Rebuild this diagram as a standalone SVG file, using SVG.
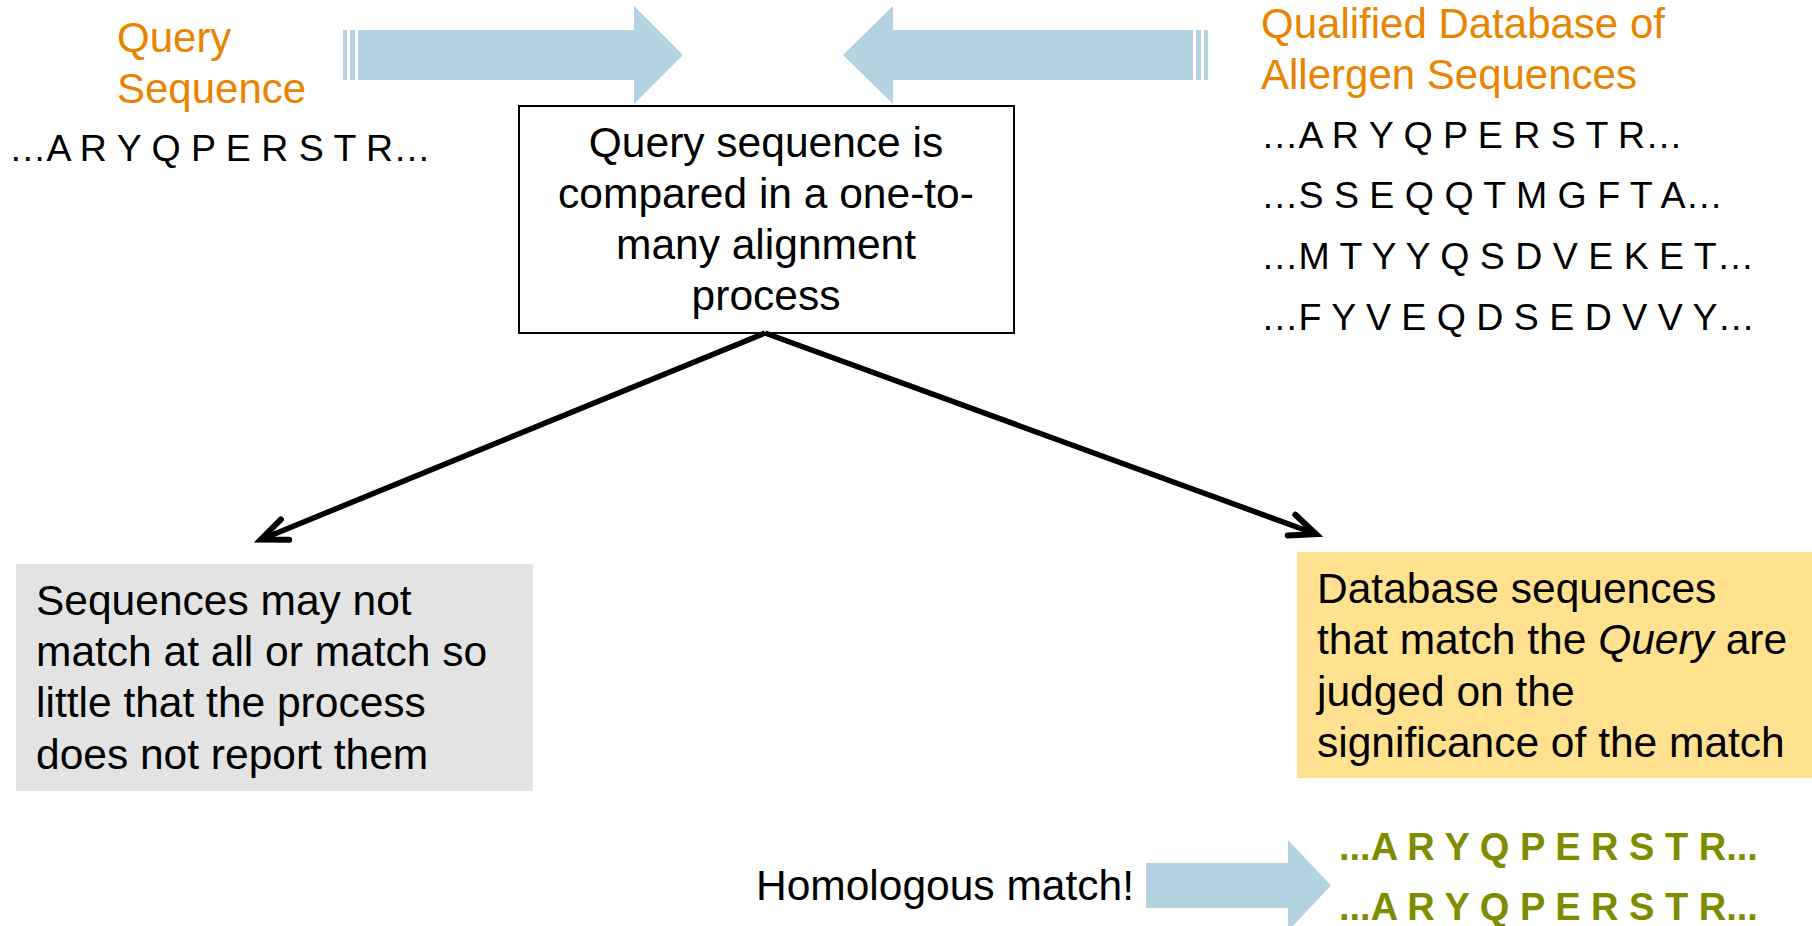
<svg xmlns="http://www.w3.org/2000/svg" width="1812" height="926" viewBox="0 0 1812 926">
<defs>
<style>
text{font-family:"Liberation Sans",Arial,sans-serif;fill:#000}
.h{font-size:42px;fill:#E98400}
.t{font-size:42.5px}
.s{font-size:37.5px}
.g{font-size:38px;font-weight:bold;fill:#808C00}
.blue{fill:#B2D3DF}
.conn{stroke:#000;stroke-width:5.5;fill:none}
</style>
<marker id="open" markerUnits="userSpaceOnUse" orient="auto" refX="0" refY="0" markerWidth="60" markerHeight="60" viewBox="-40 -30 60 60" overflow="visible">
<path d="M-26,-11 L0,0 L-26,11" fill="none" stroke="#000" stroke-width="6" stroke-linejoin="miter" stroke-linecap="round"/>
</marker>
</defs>
<rect width="1812" height="926" fill="#fff"/>

<g id="query-header">
<text class="h" x="117" y="52">Query</text>
<text class="h" x="117" y="103">Sequence</text>
<text class="s" x="9" y="161">…A R Y Q P E R S T R…</text>
</g>

<g id="arrow-query">
<rect class="blue" x="343" y="30" width="4" height="50"/>
<rect class="blue" x="350" y="30" width="5" height="50"/>
<path class="blue" d="M358,30 H634 V6 L683,55 L634,104 V80 H358 Z"/>
</g>

<g id="arrow-database">
<rect class="blue" x="1204" y="30" width="4" height="50"/>
<rect class="blue" x="1196" y="30" width="5" height="50"/>
<path class="blue" d="M1193,30 H893 V6 L843,55 L893,104 V80 H1193 Z"/>
</g>

<g id="database-header">
<text class="h" x="1261" y="38">Qualified Database of</text>
<text class="h" x="1261" y="89">Allergen Sequences</text>
<text class="s" x="1261" y="148">…A R Y Q P E R S T R…</text>
<text class="s" x="1261" y="208">…S S E Q Q T M G F T A…</text>
<text class="s" x="1261" y="269">…M T Y Y Q S D V E K E T…</text>
<text class="s" x="1261" y="330">…F Y V E Q D S E D V V Y…</text>
</g>

<g id="process">
<rect x="519" y="106" width="495" height="227" fill="#fff" stroke="#000" stroke-width="2"/>
<text class="t" text-anchor="middle" x="766" y="157">Query sequence is</text>
<text class="t" text-anchor="middle" x="766" y="208">compared in a one-to-</text>
<text class="t" text-anchor="middle" x="766" y="259">many alignment</text>
<text class="t" text-anchor="middle" x="766" y="310">process</text>
</g>

<g id="connectors">
<path class="conn" d="M765,333 L261,539.5" marker-end="url(#open)"/>
<path class="conn" d="M765,333 L1316,534" marker-end="url(#open)"/>
</g>

<g id="no-match">
<rect x="16" y="564" width="517" height="227" fill="#E3E3E3"/>
<text class="t" x="36" y="615">Sequences may not</text>
<text class="t" x="36" y="666">match at all or match so</text>
<text class="t" x="36" y="717">little that the process</text>
<text class="t" x="36" y="769">does not report them</text>
</g>

<g id="match">
<rect x="1297" y="552" width="515" height="226" fill="#FFE18F"/>
<text class="t" x="1317" y="603">Database sequences</text>
<text class="t" x="1317" y="654">that match the <tspan font-style="italic">Query</tspan> are</text>
<text class="t" x="1317" y="706">judged on the</text>
<text class="t" x="1317" y="757">significance of the match</text>
</g>

<g id="homologous">
<text class="t" x="756" y="900">Homologous match!</text>
<path class="blue" d="M1146,863 H1288 V840 L1331,885.5 L1288,931 V908 H1146 Z"/>
<text class="g" x="1339" y="860">...A R Y Q P E R S T R...</text>
<text class="g" x="1339" y="920">...A R Y Q P E R S T R...</text>
</g>
</svg>
